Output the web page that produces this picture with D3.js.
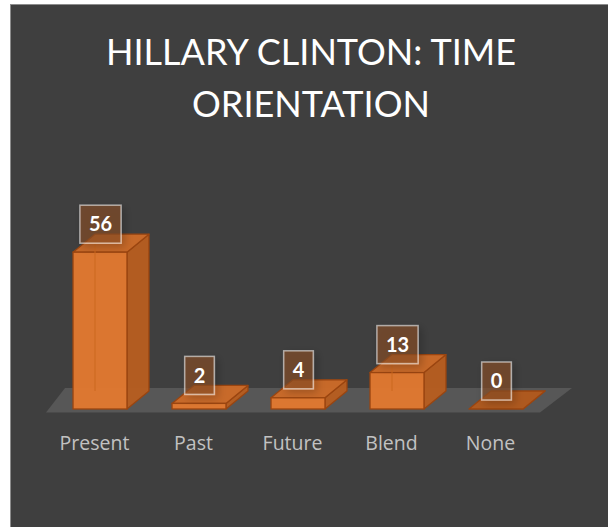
<!DOCTYPE html>
<html>
<head>
<meta charset="utf-8">
<script src="https://cdn.jsdelivr.net/npm/d3@7"></script>
<style>
  html, body { margin: 0; padding: 0; background: #ffffff; }
  svg { display: block; }
</style>
</head>
<body>
<svg id="chart" width="608" height="527"></svg>
<script>
// Chart data
const title = ["HILLARY CLINTON: TIME", "ORIENTATION"];
const categories = ["Present", "Past", "Future", "Blend", "None"];
const values = [56, 2, 4, 13, 0];

const W = 608, H = 527;
const svg = d3.select("#chart");

// drop shadow used under the value boxes
const defs = svg.append("defs");
const f = defs.append("filter").attr("id", "boxShadow")
  .attr("x", "-50%").attr("y", "-50%").attr("width", "200%").attr("height", "200%");
f.append("feDropShadow").attr("dx", 3).attr("dy", 3).attr("stdDeviation", 4)
  .attr("flood-color", "#000").attr("flood-opacity", 0.35);

// chart area with thin border
svg.append("rect").attr("x", 10.5).attr("y", 4.5).attr("width", W).attr("height", H)
  .attr("fill", "#3f3f3f").attr("stroke", "#8c8c8c").attr("stroke-width", 1);

// title
svg.append("g").selectAll("text").data(title).join("text")
  .attr("x", 311).attr("y", (d, i) => 65 + i * 52)
  .attr("text-anchor", "middle")
  .attr("font-family", "Lato, 'Open Sans', sans-serif")
  .attr("font-size", 36)
  .attr("fill", "#ffffff")
  .text(d => d);

// scales
const x = d3.scaleBand().domain(categories).range([50.5, 545.5])
  .paddingInner(0.455).paddingOuter(0.2275);
const y = d3.scaleLinear().domain([0, 60]).range([409, 241]);

// 3D depth offsets
const dx = 22, dy = -18;

// floor
const r = x.range();
const y0 = y(0);
const floor = [
  [r[0] - 4.5, y0 + 3.5], [r[1] - 5.5, y0 + 3.5],
  [r[1] + 26.5, y0 - 21], [r[0] + 14.5, y0 - 21]
];
svg.append("polygon")
  .attr("points", floor.map(p => p.join(",")).join(" "))
  .attr("fill", "#575757");

const data = categories.map((c, i) => ({ cat: c, v: values[i] }));
const edge = "#9a4510";

const bars = svg.append("g").selectAll("g").data(data).join("g");

// side face
bars.append("polygon")
  .attr("points", d => {
    const x0 = x(d.cat), w = x.bandwidth(), yt = y(d.v);
    return [[x0 + w, yt], [x0 + w + dx, yt + dy], [x0 + w + dx, y0 + dy], [x0 + w, y0]]
      .map(p => p.join(",")).join(" ");
  })
  .attr("fill", "#b85e20").attr("fill-opacity", 0.95)
  .attr("stroke", edge).attr("stroke-width", 1.3).attr("stroke-linejoin", "round");

// top face
bars.append("polygon")
  .attr("points", d => {
    const x0 = x(d.cat), w = x.bandwidth(), yt = y(d.v);
    return [[x0, yt], [x0 + w, yt], [x0 + w + dx, yt + dy], [x0 + dx, yt + dy]]
      .map(p => p.join(",")).join(" ");
  })
  .attr("fill", d => d.v === 0 ? "#b35a1c" : "#cf6c28").attr("fill-opacity", 0.95)
  .attr("stroke", edge).attr("stroke-width", 1.3).attr("stroke-linejoin", "round");

// front face
bars.filter(d => d.v > 0).append("rect")
  .attr("x", d => x(d.cat)).attr("y", d => y(d.v))
  .attr("width", x.bandwidth()).attr("height", d => y0 - y(d.v))
  .attr("fill", "#e0782f").attr("fill-opacity", 0.97)
  .attr("stroke", edge).attr("stroke-width", 1.3);

// faint hidden back edge visible through the front face
bars.filter(d => d.v > 10).append("line")
  .attr("x1", d => x(d.cat) + dx).attr("x2", d => x(d.cat) + dx)
  .attr("y1", d => y(d.v) + dy + 2).attr("y2", y0 + dy)
  .attr("stroke", "#cc6820").attr("stroke-width", 1);

// category labels
svg.append("g").selectAll("text").data(categories).join("text")
  .attr("x", d => x(d) + x.bandwidth() / 2 - 5.5)
  .attr("y", 450)
  .attr("text-anchor", "middle")
  .attr("font-family", "'Open Sans', Lato, sans-serif")
  .attr("font-size", 19.5)
  .attr("fill", "#c2c2c2")
  .text(d => d);

// value labels in boxes
const lbl = svg.append("g").selectAll("g").data(data).join("g")
  .attr("transform", d => `translate(${x(d.cat) + x.bandwidth() / 2 + 0.5},${y(d.v) - 28})`);
const txt = lbl.append("text")
  .attr("text-anchor", "middle").attr("dy", "0.36em")
  .attr("font-family", "Lato, 'Open Sans', sans-serif")
  .attr("font-weight", "bold").attr("font-size", 20)
  .attr("fill", "#ffffff")
  .text(d => d.v);
txt.each(function (d) { d.tw = this.getComputedTextLength(); });
lbl.insert("rect", "text")
  .attr("x", d => -(d.tw + 18) / 2).attr("y", -19)
  .attr("width", d => d.tw + 18).attr("height", 38)
  .attr("fill", "rgb(140,80,40)").attr("fill-opacity", 0.6)
  .attr("stroke", "#ffffff").attr("stroke-opacity", 0.55).attr("stroke-width", 1.5)
  .attr("filter", "url(#boxShadow)");
</script>
</body>
</html>
